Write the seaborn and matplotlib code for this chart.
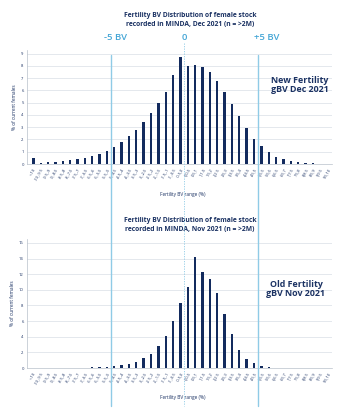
import matplotlib
matplotlib.use("Agg")
import matplotlib.pyplot as plt
import matplotlib.transforms as mtransforms
from matplotlib.lines import Line2D
import seaborn as sns
import pandas as pd

bins = ["<-10", "-10,-9.5", "-9.5,-9", "-9,-8.5", "-8.5,-8", "-8,-7.5", "-7.5,-7",
        "-7,-6.5", "-6.5,-6", "-6,-5.5", "-5.5,-5", "-5,-4.5", "-4.5,-4", "-4,-3.5",
        "-3.5,-3", "-3,-2.5", "-2.5,-2", "-2,-1.5", "-1.5,-1", "-1,-0.5", "-0.5,0",
        "0,0.5", "0.5,1", "1,1.5", "1.5,2", "2,2.5", "2.5,3", "3,3.5", "3.5,4",
        "4,4.5", "4.5,5", "5,5.5", "5.5,6", "6,6.5", "6.5,7", "7,7.5", "7.5,8",
        "8,8.5", "8.5,9", "9,9.5", "9.5,10"]

new_dec2021 = [0.5, 0.12, 0.15, 0.2, 0.25, 0.3, 0.4, 0.5, 0.65, 0.85, 1.1, 1.4, 1.8,
               2.25, 2.8, 3.4, 4.2, 5.0, 5.85, 7.25, 8.75,
               8.0, 8.1, 7.95, 7.5, 6.8, 5.85, 4.9, 3.9, 2.9, 2.05, 1.45, 0.95, 0.6,
               0.38, 0.22, 0.14, 0.1, 0.05, 0.0, 0.0]

old_nov2021 = [0, 0, 0, 0, 0, 0, 0, 0,
               0.13, 0.15, 0.18, 0.28, 0.33, 0.55, 0.8, 1.22, 1.8, 2.8, 4.1, 6.0, 8.3,
               10.4, 14.2, 12.3, 11.4, 9.6, 6.85, 4.3, 2.3, 1.1, 0.62, 0.24, 0.09,
               0, 0, 0, 0, 0, 0, 0, 0]

yticks_top = [0, 1, 2, 3, 4, 5, 6, 7, 8, 9]
yticks_bot = [0, 2, 4, 6, 8, 10, 12, 14, 16]

NAVY = "#1b3263"
BAR = "#132b5e"
LBLUE = "#8fcbe6"
TBLUE = "#45a6d6"
GRID = "#dfe4ea"

sns.set_theme(style="white")
plt.rcParams["font.family"] = ["Open Sans", "DejaVu Sans"]

W, H = 351, 409
fig = plt.figure(figsize=(W / 100, H / 100), dpi=100)

def fx(px):
    return px / W

def fy(py):
    return 1 - py / H

ax1 = fig.add_axes([fx(27), fy(164), fx(332) - fx(27), fy(50) - fy(164)])
ax2 = fig.add_axes([fx(27), fy(368), fx(332) - fx(27), fy(239) - fy(368)])

def draw(ax, vals, yticks, ymax):
    df = pd.DataFrame({"bin": bins, "pct": vals})
    sns.barplot(data=df, x="bin", y="pct", order=bins, color=BAR, width=0.32,
                saturation=1, ax=ax, zorder=3)
    for p in ax.patches:
        p.set_snap(True)
        p.set_linewidth(0)
    ax.set_xlim(-0.86, 40.6)
    ax.set_ylim(0, ymax)
    ax.set_yticks(yticks)
    ax.set_yticklabels([str(t) for t in yticks], fontsize=3, color=NAVY)
    ax.set_xticks(range(len(bins)))
    ax.set_xticklabels(bins, rotation=60, ha="right", rotation_mode="anchor",
                       fontsize=2.9, color=NAVY)
    ax.tick_params(axis="both", length=1.2, width=0.4, color="#9aa3b0", pad=1.2)
    ax.grid(axis="y", color=GRID, linewidth=0.6, zorder=0)
    ax.set_axisbelow(True)
    for s in ["top", "right"]:
        ax.spines[s].set_visible(False)
    for s in ["left", "bottom"]:
        ax.spines[s].set_color("#b8c0ca")
        ax.spines[s].set_linewidth(0.5)
    ax.set_xlabel("")
    ax.set_ylabel("% of current females", fontsize=3.4, color=NAVY, labelpad=3)

draw(ax1, new_dec2021, yticks_top, 9.3)
draw(ax2, old_nov2021, yticks_bot, 16.5)

fig.text(fx(183), fy(194), "Fertility BV range (%)", fontsize=3.4, color=NAVY,
         ha="center", va="center")
fig.text(fx(183), fy(398), "Fertility BV range (%)", fontsize=3.4, color=NAVY,
         ha="center", va="center")

# titles
fig.text(fx(190), fy(20), "Fertility BV Distribution of female stock\nrecorded in MINDA, Dec 2021 (n = >2M)",
         fontsize=4.9, color=NAVY, ha="center", va="center", fontweight="bold",
         linespacing=1.3)
fig.text(fx(190), fy(225), "Fertility BV Distribution of female stock\nrecorded in MINDA, Nov 2021 (n = >2M)",
         fontsize=4.9, color=NAVY, ha="center", va="center", fontweight="bold",
         linespacing=1.3)

# annotations
fig.text(fx(300), fy(85), "New Fertility\ngBV Dec 2021", fontsize=6.4, color=NAVY,
         ha="center", va="center", fontweight="bold", linespacing=1.1)
fig.text(fx(296), fy(289), "Old Fertility\ngBV Nov 2021", fontsize=6.4, color=NAVY,
         ha="center", va="center", fontweight="bold", linespacing=1.1)

# BV reference lines spanning both charts
trans = mtransforms.blended_transform_factory(ax1.transData, fig.transFigure)
for xv in [10.5, 30.5]:
    fig.add_artist(Line2D([xv, xv], [fy(55), fy(406)], transform=trans,
                          color=LBLUE, linewidth=1.0, zorder=5))
fig.add_artist(Line2D([20.5, 20.5], [fy(43), fy(406)], transform=trans,
                      color=LBLUE, linewidth=0.6, linestyle=(0, (1.5, 1.5)), zorder=5))

fig.text(fx(116), fy(38), "-5 BV", fontsize=6.8, color=TBLUE, ha="center", va="center",
         fontweight="semibold")
fig.text(fx(184), fy(38), "0", fontsize=6.8, color=TBLUE, ha="center", va="center",
         fontweight="semibold")
fig.text(fx(267), fy(38), "+5 BV", fontsize=6.8, color=TBLUE, ha="center", va="center",
         fontweight="semibold")

fig.savefig("out.png", dpi=100, facecolor="white")
